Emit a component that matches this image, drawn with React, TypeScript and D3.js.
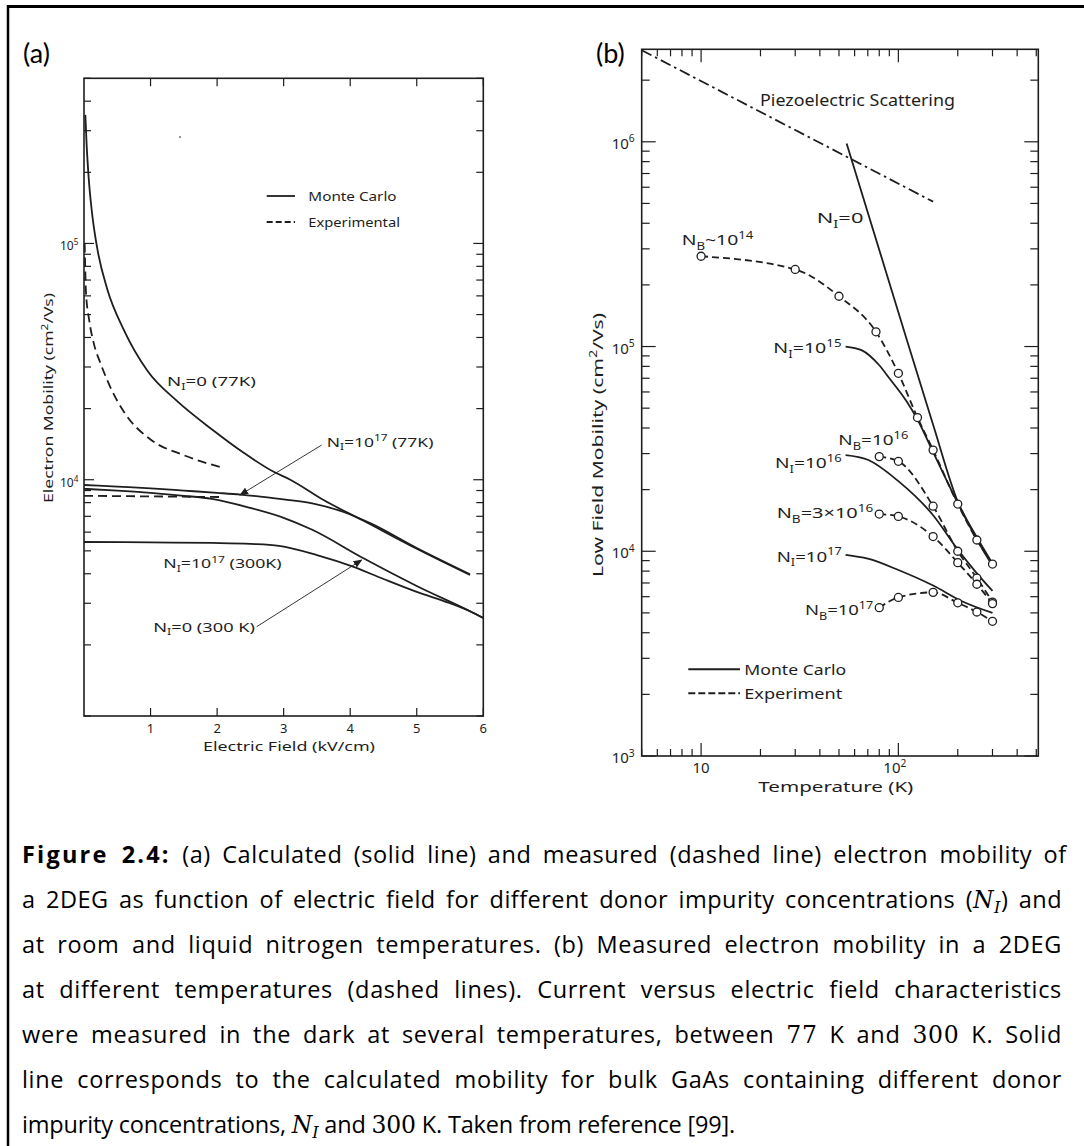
import React, { useLayoutEffect, useRef } from 'react';
import * as d3 from 'd3';

type Pt = [number, number];

// ---------------- Panel (a): mobility vs electric field ----------------
const fieldTicks = [1, 2, 3, 4, 5, 6];
const mobilityMajorA = [1e4, 1e5];
const mcNi0_77K: Pt[] = [[0.02, 3.5e5], [0.04, 2.6e5], [0.07, 1.9e5], [0.12, 1.35e5], [0.2, 9.5e4], [0.35, 6.4e4], [0.6, 4.3e4], [0.95, 2.9e4], [1.4, 2.15e4], [1.94, 1.62e4], [2.4, 1.3e4], [2.85, 1.08e4], [3.1, 1.0e4], [3.6, 8.2e3], [4.2, 6.7e3], [5.0, 5.1e3], [5.8, 3.95e3]];
const mcNi17_77K: Pt[] = [[0, 9.5e3], [0.5, 9.35e3], [1, 9.2e3], [1.5, 9.0e3], [2, 8.8e3], [2.35, 8.65e3], [3, 8.25e3], [3.43, 7.95e3], [3.9, 7.3e3], [4.3, 6.55e3], [5.0, 5.14e3], [5.8, 3.98e3]];
const mcNi0_300K: Pt[] = [[0, 9.15e3], [0.5, 9.0e3], [1, 8.8e3], [1.5, 8.55e3], [1.92, 8.3e3], [2.5, 7.6e3], [3, 6.9e3], [3.43, 6.14e3], [4.2, 4.65e3], [5, 3.55e3], [5.83, 2.75e3], [6, 2.6e3]];
const mcNi17_300K: Pt[] = [[0, 5.45e3], [1, 5.43e3], [1.92, 5.4e3], [2.5, 5.35e3], [2.93, 5.25e3], [3.5, 4.8e3], [4.03, 4.3e3], [4.5, 3.8e3], [5, 3.35e3], [5.5, 3.0e3], [5.83, 2.75e3], [6, 2.6e3]];
const expNi0_77K: Pt[] = [[0.01, 1.0e5], [0.03, 6.2e4], [0.08, 4.7e4], [0.15, 3.75e4], [0.25, 3.1e4], [0.4, 2.45e4], [0.62, 1.9e4], [1.0, 1.48e4], [1.5, 1.27e4], [2.1, 1.12e4]];
const expNi17_77K: Pt[] = [[0, 8.55e3], [1, 8.5e3], [2.03, 8.45e3]];

// ---------------- Panel (b): mobility vs temperature ----------------
const tempMajor = [10, 100];
const mobilityMajorB = [1e3, 1e4, 1e5, 1e6];
const piezoLine: Pt[] = [[5, 2.8e6], [150, 5.1e5]];
const mcNI0: Pt[] = [[54.7, 9.8e5], [100, 1.47e5], [150, 4.15e4], [200, 1.75e4], [250, 1.17e4], [300, 8.7e3]];
const mcNI15: Pt[] = [[54, 1.0e5], [65, 9.6e4], [80, 8.1e4], [90, 7.0e4], [110, 5.4e4], [125, 4.4e4], [150, 3.05e4], [200, 1.72e4], [250, 1.14e4], [300, 8.5e3]];
const mcNI16: Pt[] = [[54, 2.95e4], [70, 2.8e4], [100, 2.2e4], [150, 1.5e4], [200, 1.02e4], [250, 7.8e3], [300, 6.4e3]];
const mcNI17: Pt[] = [[54, 9.6e3], [70, 9.2e3], [100, 8.1e3], [150, 6.8e3], [210, 5.7e3], [300, 5.0e3]];
const expNB14: Pt[] = [[10, 2.76e5], [30, 2.38e5], [50, 1.76e5], [77, 1.18e5], [100, 7.4e4], [125, 4.5e4], [150, 3.12e4], [200, 1.7e4], [250, 1.135e4], [300, 8.66e3]];
const expNB16: Pt[] = [[80, 2.9e4], [100, 2.75e4], [150, 1.66e4], [200, 1.0e4], [250, 7.4e3], [300, 5.65e3]];
const expNB3e16: Pt[] = [[80, 1.52e4], [100, 1.48e4], [150, 1.18e4], [200, 8.8e3], [250, 6.9e3], [300, 5.55e3]];
const expNB17: Pt[] = [[80, 5.3e3], [100, 5.95e3], [150, 6.3e3], [200, 5.6e3], [250, 5.05e3], [300, 4.55e3]];

// ---------------- Caption ----------------
type Seg = { t: string; b?: boolean; m?: boolean; sub?: boolean; r?: boolean };
const captionLines: Seg[][] = [
  [{ t: 'Figure 2.4:', b: true }, { t: ' (a) Calculated (solid line) and measured (dashed line) electron mobility of' }],
  [{ t: 'a 2DEG as function of electric field for different donor impurity concentrations (' }, { t: 'N', m: true }, { t: 'I', m: true, sub: true }, { t: ') and' }],
  [{ t: 'at room and liquid nitrogen temperatures. (b) Measured electron mobility in a 2DEG' }],
  [{ t: 'at different temperatures (dashed lines).  Current versus electric field characteristics' }],
  [{ t: 'were measured in the dark at several temperatures, between ' }, { t: '77', r: true }, { t: ' K and ' }, { t: '300', r: true }, { t: ' K. Solid' }],
  [{ t: 'line corresponds to the calculated mobility for bulk GaAs containing different donor' }],
  [{ t: 'impurity concentrations, ' }, { t: 'N', m: true }, { t: 'I', m: true, sub: true }, { t: ' and ' }, { t: '300', r: true }, { t: ' K. Taken from reference [99].' }],
];

type Part = { t: string; sub?: boolean; sup?: boolean };

function logTicks(lo: number, hi: number): number[] {
  const out: number[] = [];
  for (let e = Math.floor(Math.log10(lo)); e <= Math.ceil(Math.log10(hi)); e++) {
    for (let k = 1; k <= 9; k++) {
      const v = k * Math.pow(10, e);
      if (v >= lo * 0.999 && v <= hi * 1.001) out.push(v);
    }
  }
  return out;
}

const FIG_FONT = "'Noto Sans', 'DejaVu Sans', sans-serif";
const INK = '#1e1e1e';

function Lbl({ x, y, parts, fs, len, anchor, rotate }: { x: number; y: number; parts: Part[]; fs: number; len?: number; anchor?: string; rotate?: boolean }) {
  let shift = 0;
  const spans = parts.map((p, i) => {
    const target = p.sub ? fs * 0.3 : p.sup ? -fs * 0.42 : 0;
    const dy = target - shift;
    shift = target;
    return (
      <tspan key={i} dy={dy} fontSize={p.sub || p.sup ? fs * 0.68 : fs}>{p.t}</tspan>
    );
  });
  return (
    <text
      x={x}
      y={y}
      fontSize={fs}
      fontFamily={FIG_FONT}
      fill={INK}
      textAnchor={anchor || 'start'}
      textLength={len}
      lengthAdjust={len ? 'spacingAndGlyphs' : undefined}
      transform={rotate ? `rotate(-90 ${x} ${y})` : undefined}
    >
      {spans}
    </text>
  );
}

export default function App() {
  const capRefs = useRef<(SVGTextElement | null)[]>([]);
  const capX0 = 22;
  const capRight = 1062;
  const capLastRight = 735;
  const capY0 = 863;
  const capDY = 45;

  useLayoutEffect(() => {
    capRefs.current.forEach((el, i) => {
      if (!el) return;
      const last = i === captionLines.length - 1;
      el.setAttribute('word-spacing', '0');
      el.setAttribute('letter-spacing', '0');
      const natural = el.getComputedTextLength();
      const plain = captionLines[i].filter((s) => !s.b).map((s) => s.t).join('');
      const nChars = plain.replace(/\s+/g, ' ').length;
      const spaces = (plain.replace(/\s+/g, ' ').match(/ /g) || []).length;
      const extra = (last ? capLastRight : capRight) - capX0 - natural;
      if (last) {
        el.setAttribute('letter-spacing', (extra / nChars).toFixed(3));
      } else {
        const ls = (extra * 0.45) / nChars;
        const ws = (extra * 0.55) / Math.max(1, spaces);
        el.setAttribute('letter-spacing', ls.toFixed(3));
        el.setAttribute('word-spacing', ws.toFixed(3));
      }
    });
  }, []);

  // scales panel (a)
  const xA = d3.scaleLinear().domain([0, 6]).range([84, 483.3]);
  const yA = d3.scaleLog().domain([1e3, 5e5]).range([716, 78.3]);
  // scales panel (b)
  const xB = d3.scaleLog().domain([5, 512]).range([641.7, 1038.3]);
  const yB = d3.scaleLog().domain([1e3, 2.83e6]).range([756, 49.3]);

  const lineA = d3.line<Pt>().x((d) => xA(d[0])).y((d) => yA(d[1])).curve(d3.curveMonotoneX);
  const lineB = d3.line<Pt>().x((d) => xB(d[0])).y((d) => yB(d[1])).curve(d3.curveMonotoneX);
  const lineBStraight = d3.line<Pt>().x((d) => xB(d[0])).y((d) => yB(d[1]));

  const [ax0, ax1] = xA.range();
  const [ay0, ay1] = [yA(5e5), yA(1e3)];
  const [bx0, bx1] = xB.range();
  const [by0, by1] = [yB(2.83e6), yB(1e3)];

  const ticksA = logTicks(1e3, 5e5);
  const ticksBy = logTicks(1e3, 2.83e6);
  const ticksBx = logTicks(5, 512);

  const solid = { fill: 'none', stroke: INK, strokeWidth: 1.8 };
  const dashedA = { ...solid, strokeDasharray: '9,5' };
  const dashedB = { ...solid, strokeDasharray: '7,4' };

  const circles = (data: Pt[], key: string) =>
    data.map((d, i) => (
      <circle key={key + i} cx={xB(d[0])} cy={yB(d[1])} r={4} fill="#fff" stroke={INK} strokeWidth={1.3} />
    ));

  return (
    <svg width={1084} height={1146} style={{ position: 'absolute', left: 0, top: 0, background: '#fff' }}>
      <defs>
        <marker id="arr" viewBox="0 0 10 10" refX="9" refY="5" markerWidth="9" markerHeight="9" markerUnits="userSpaceOnUse" orient="auto">
          <path d="M0,1 L10,5 L0,9 z" fill={INK} />
        </marker>
      </defs>
      <rect x={0} y={0} width={1084} height={1146} fill="#fff" />
      {/* outer frame */}
      <line x1={7} y1={6.5} x2={1084} y2={6.5} stroke="#000" strokeWidth={3} />
      <line x1={8} y1={5} x2={8} y2={1146} stroke="#000" strokeWidth={2.5} />

      {/* panel labels */}
      <text x={23} y={63} fontSize={27} fontFamily="Lato, 'Open Sans', sans-serif" fill="#000">(a)</text>
      <text x={596} y={63} fontSize={27} fontFamily="Lato, 'Open Sans', sans-serif" fill="#000">(b)</text>

      {/* ===== Panel (a) ===== */}
      <rect x={ax0} y={ay0} width={ax1 - ax0} height={ay1 - ay0} fill="none" stroke={INK} strokeWidth={1.6} />
      {ticksA.map((v, i) => {
        const major = mobilityMajorA.includes(v);
        const len = major ? 10 : 7;
        return (
          <g key={'ta' + i}>
            <line x1={ax0} x2={ax0 + len} y1={yA(v)} y2={yA(v)} stroke={INK} strokeWidth={1.2} />
            <line x1={ax1} x2={ax1 - len} y1={yA(v)} y2={yA(v)} stroke={INK} strokeWidth={1.2} />
          </g>
        );
      })}
      {fieldTicks.map((v) => (
        <g key={'fa' + v}>
          <line x1={xA(v)} x2={xA(v)} y1={ay1} y2={ay1 - 8} stroke={INK} strokeWidth={1.2} />
          <line x1={xA(v)} x2={xA(v)} y1={ay0} y2={ay0 + 8} stroke={INK} strokeWidth={1.2} />
          <text x={xA(v)} y={733} fontSize={13} fontFamily={FIG_FONT} fill={INK} textAnchor="middle">{v}</text>
        </g>
      ))}
      {mobilityMajorA.map((v) => (
        <Lbl key={'la' + v} x={60} y={yA(v) + 7} fs={12} parts={[{ t: '10' }, { t: String(Math.round(Math.log10(v))), sup: true }]} />
      ))}
      <Lbl x={289} y={751} fs={13} anchor="middle" len={172} parts={[{ t: 'Electric Field   (kV/cm)' }]} />
      <Lbl x={53} y={398} fs={13} anchor="middle" len={210} rotate parts={[{ t: 'Electron Mobility   (cm' }, { t: '2', sup: true }, { t: '/Vs)' }]} />
      <circle cx={180} cy={137} r={0.9} fill="#666" />

      {/* curves (a) */}
      <path d={lineA(mcNi0_77K) || ''} {...solid} />
      <path d={lineA(mcNi17_77K) || ''} {...solid} />
      <path d={lineA(mcNi0_300K) || ''} {...solid} />
      <path d={lineA(mcNi17_300K) || ''} {...solid} />
      <path d={lineA(expNi0_77K) || ''} {...dashedA} />
      <path d={lineA(expNi17_77K) || ''} {...dashedA} />

      {/* legend (a) */}
      <line x1={266.7} x2={295} y1={196} y2={196} stroke={INK} strokeWidth={1.8} />
      <line x1={266.7} x2={295} y1={222} y2={222} stroke={INK} strokeWidth={1.8} strokeDasharray="6,3" />
      <Lbl x={308.3} y={200.5} fs={13} len={88.3} parts={[{ t: 'Monte Carlo' }]} />
      <Lbl x={308.3} y={226.5} fs={13} len={91.7} parts={[{ t: 'Experimental' }]} />

      {/* annotations (a) */}
      <Lbl x={167} y={386} fs={13} len={89} parts={[{ t: 'N' }, { t: 'I', sub: true }, { t: '=0 (77K)' }]} />
      <Lbl x={326.7} y={446.5} fs={13} len={106.7} parts={[{ t: 'N' }, { t: 'I', sub: true }, { t: '=10' }, { t: '17', sup: true }, { t: ' (77K)' }]} />
      <Lbl x={163.3} y={568} fs={13} len={118.3} parts={[{ t: 'N' }, { t: 'I', sub: true }, { t: '=10' }, { t: '17', sup: true }, { t: ' (300K)' }]} />
      <Lbl x={153.3} y={631.5} fs={13} len={101.7} parts={[{ t: 'N' }, { t: 'I', sub: true }, { t: '=0 (300 K)' }]} />
      <line x1={321.7} y1={445} x2={240} y2={495} stroke={INK} strokeWidth={0.9} markerEnd="url(#arr)" />
      <line x1={256.7} y1={626.7} x2={361.7} y2={560} stroke={INK} strokeWidth={0.9} markerEnd="url(#arr)" />

      {/* ===== Panel (b) ===== */}
      <rect x={bx0} y={by0} width={bx1 - bx0} height={by1 - by0} fill="none" stroke={INK} strokeWidth={1.6} />
      {ticksBy.map((v, i) => {
        const major = mobilityMajorB.includes(v);
        const len = major ? 14 : 8;
        return (
          <g key={'tby' + i}>
            <line x1={bx0} x2={bx0 + len} y1={yB(v)} y2={yB(v)} stroke={INK} strokeWidth={1.2} />
            <line x1={bx1} x2={bx1 - len} y1={yB(v)} y2={yB(v)} stroke={INK} strokeWidth={1.2} />
          </g>
        );
      })}
      {ticksBx.map((v, i) => {
        const major = tempMajor.includes(v);
        const len = major ? 13 : 7;
        return (
          <g key={'tbx' + i}>
            <line x1={xB(v)} x2={xB(v)} y1={by1} y2={by1 - len} stroke={INK} strokeWidth={1.2} />
            <line x1={xB(v)} x2={xB(v)} y1={by0} y2={by0 + len} stroke={INK} strokeWidth={1.2} />
          </g>
        );
      })}
      <Lbl x={xB(10)} y={773} fs={15} anchor="middle" parts={[{ t: '10' }]} />
      <Lbl x={883.3} y={773} fs={15} parts={[{ t: '10' }, { t: '2', sup: true }]} />
      {mobilityMajorB.map((v) => (
        <Lbl key={'lb' + v} x={611.7} y={yB(v) + 7} fs={15} parts={[{ t: '10' }, { t: String(Math.round(Math.log10(v))), sup: true }]} />
      ))}
      <Lbl x={758.3} y={792} fs={15} len={155} parts={[{ t: 'Temperature   (K)' }]} />
      <Lbl x={603} y={445} fs={15} anchor="middle" len={264} rotate parts={[{ t: 'Low Field Mobility   (cm' }, { t: '2', sup: true }, { t: '/Vs)' }]} />

      {/* curves (b) */}
      <path d={lineBStraight(piezoLine) || ''} fill="none" stroke={INK} strokeWidth={1.8} strokeDasharray="11,4,2.5,4" />
      <path d={lineB(mcNI0) || ''} {...solid} />
      <path d={lineB(mcNI15) || ''} {...solid} />
      <path d={lineB(mcNI16) || ''} {...solid} />
      <path d={lineB(mcNI17) || ''} {...solid} />
      <path d={lineB(expNB14) || ''} {...dashedB} />
      <path d={lineB(expNB16) || ''} {...dashedB} />
      <path d={lineB(expNB3e16) || ''} {...dashedB} />
      <path d={lineB(expNB17) || ''} {...dashedB} />
      {circles(expNB14, 'c14')}
      {circles(expNB16, 'c16')}
      {circles(expNB3e16, 'c3')}
      {circles(expNB17, 'c17')}

      {/* annotations (b) */}
      <Lbl x={760} y={105.5} fs={16} len={195} parts={[{ t: 'Piezoelectric Scattering' }]} />
      <Lbl x={681.7} y={245} fs={15} len={71.6} parts={[{ t: 'N' }, { t: 'B', sub: true }, { t: '~10' }, { t: '14', sup: true }]} />
      <Lbl x={816.7} y={223} fs={15} len={46.7} parts={[{ t: 'N' }, { t: 'I', sub: true }, { t: '=0' }]} />
      <Lbl x={773.3} y={353} fs={15} len={68.2} parts={[{ t: 'N' }, { t: 'I', sub: true }, { t: '=10' }, { t: '15', sup: true }]} />
      <Lbl x={838.3} y={445} fs={15} len={70} parts={[{ t: 'N' }, { t: 'B', sub: true }, { t: '=10' }, { t: '16', sup: true }]} />
      <Lbl x={775} y={468} fs={15} len={66.7} parts={[{ t: 'N' }, { t: 'I', sub: true }, { t: '=10' }, { t: '16', sup: true }]} />
      <Lbl x={776.7} y={518} fs={15} len={96.6} parts={[{ t: 'N' }, { t: 'B', sub: true }, { t: '=3×10' }, { t: '16', sup: true }]} />
      <Lbl x={776.7} y={561.5} fs={15} len={65} parts={[{ t: 'N' }, { t: 'I', sub: true }, { t: '=10' }, { t: '17', sup: true }]} />
      <Lbl x={805} y={615} fs={15} len={68.2} parts={[{ t: 'N' }, { t: 'B', sub: true }, { t: '=10' }, { t: '17', sup: true }]} />

      {/* legend (b) */}
      <line x1={688.3} x2={740} y1={669.3} y2={669.3} stroke={INK} strokeWidth={2} />
      <line x1={688.3} x2={740} y1={693.3} y2={693.3} stroke={INK} strokeWidth={2} strokeDasharray="7,3" />
      <Lbl x={744.3} y={674.5} fs={15} len={101.8} parts={[{ t: 'Monte Carlo' }]} />
      <Lbl x={744.3} y={698.5} fs={15} len={98} parts={[{ t: 'Experiment' }]} />

      {/* ===== Caption ===== */}
      {captionLines.map((line, li) => {
        let shift = 0;
        return (
          <text
            key={'cap' + li}
            ref={(el) => { capRefs.current[li] = el; }}
            x={capX0}
            y={capY0 + li * capDY}
            fontSize={23.5}
            fontFamily="'Open Sans', Lato, sans-serif"
            fill="#000"
          >
            {line.map((s, si) => {
              const target = s.sub ? 5 : 0;
              const dy = target - shift;
              shift = target;
              return (
                <tspan
                  key={si}
                  dy={dy}
                  fontWeight={s.b ? 'bold' : undefined}
                  letterSpacing={s.b ? 2.2 : undefined}
                  fontStyle={s.m ? 'italic' : undefined}
                  fontFamily={s.m || s.r ? "'DejaVu Serif', 'Liberation Serif', serif" : undefined}
                  fontSize={s.sub ? 16 : undefined}
                >
                  {s.t}
                </tspan>
              );
            })}
          </text>
        );
      })}
    </svg>
  );
}
